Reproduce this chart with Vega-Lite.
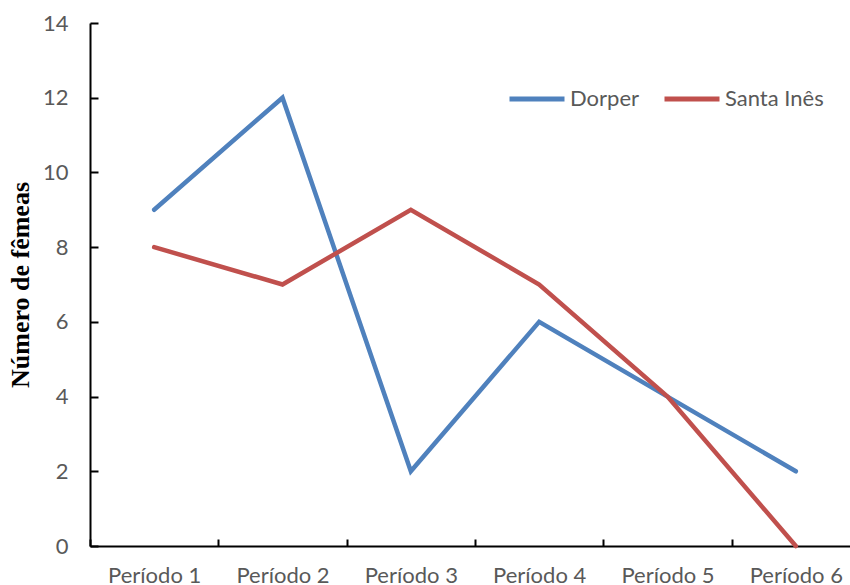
{
  "$schema": "https://vega.github.io/schema/vega-lite/v6.json",
  "autosize": {"type": "none"},
  "width": 760,
  "height": 523,
  "padding": {"left": 90, "top": 23, "right": 0, "bottom": 39},
  "background": "white",
  "config": {"view": {"stroke": null}},
  "data": {
    "values": [
      {"periodo": "Período 1", "raca": "Dorper", "valor": 9},
      {"periodo": "Período 2", "raca": "Dorper", "valor": 12},
      {"periodo": "Período 3", "raca": "Dorper", "valor": 2},
      {"periodo": "Período 4", "raca": "Dorper", "valor": 6},
      {"periodo": "Período 5", "raca": "Dorper", "valor": 4},
      {"periodo": "Período 6", "raca": "Dorper", "valor": 2},
      {"periodo": "Período 1", "raca": "Santa Inês", "valor": 8},
      {"periodo": "Período 2", "raca": "Santa Inês", "valor": 7},
      {"periodo": "Período 3", "raca": "Santa Inês", "valor": 9},
      {"periodo": "Período 4", "raca": "Santa Inês", "valor": 7},
      {"periodo": "Período 5", "raca": "Santa Inês", "valor": 4},
      {"periodo": "Período 6", "raca": "Santa Inês", "valor": 0}
    ]
  },
  "mark": {"type": "line", "strokeWidth": 4.5, "strokeCap": "round", "strokeJoin": "miter", "clip": false},
  "encoding": {
    "x": {
      "field": "periodo",
      "type": "ordinal",
      "sort": null,
      "scale": {"type": "band", "paddingInner": 0, "paddingOuter": 0, "range": [0, 770]},
      "axis": {
        "title": null,
        "labelAngle": 0,
        "tickBand": "extent",
        "domainColor": "#000000",
        "domainWidth": 2,
        "tickColor": "#000000",
        "tickWidth": 2,
        "tickSize": -7,
        "labelPadding": 36,
        "labelFont": "Lato",
        "labelFontSize": 22,
        "labelColor": "#595959",
        "labelBaseline": "middle"
      }
    },
    "y": {
      "field": "valor",
      "type": "quantitative",
      "scale": {"domain": [0, 14], "nice": false},
      "axis": {
        "values": [0, 2, 4, 6, 8, 10, 12, 14],
        "grid": false,
        "title": "Número de fêmeas",
        "titleFont": "Liberation Serif",
        "titleFontSize": 26,
        "titleFontWeight": "bold",
        "titleColor": "#000000",
        "titlePadding": 9,
        "domainColor": "#000000",
        "domainWidth": 2,
        "tickColor": "#000000",
        "tickWidth": 2,
        "tickSize": -8,
        "labelPadding": 30,
        "labelFont": "Lato",
        "labelFontSize": 22,
        "labelColor": "#595959"
      }
    },
    "color": {
      "field": "raca",
      "type": "nominal",
      "scale": {"domain": ["Dorper", "Santa Inês"], "range": ["#4F81BD", "#C0504D"]},
      "legend": {
        "title": null,
        "orient": "none",
        "direction": "horizontal",
        "legendX": 417,
        "legendY": 46,
        "symbolType": "stroke",
        "symbolSize": 3025,
        "symbolStrokeWidth": 5,
        "labelFont": "Lato",
        "labelFontSize": 22,
        "labelColor": "#595959",
        "labelOffset": 3,
        "columnPadding": 14
      }
    }
  }
}
